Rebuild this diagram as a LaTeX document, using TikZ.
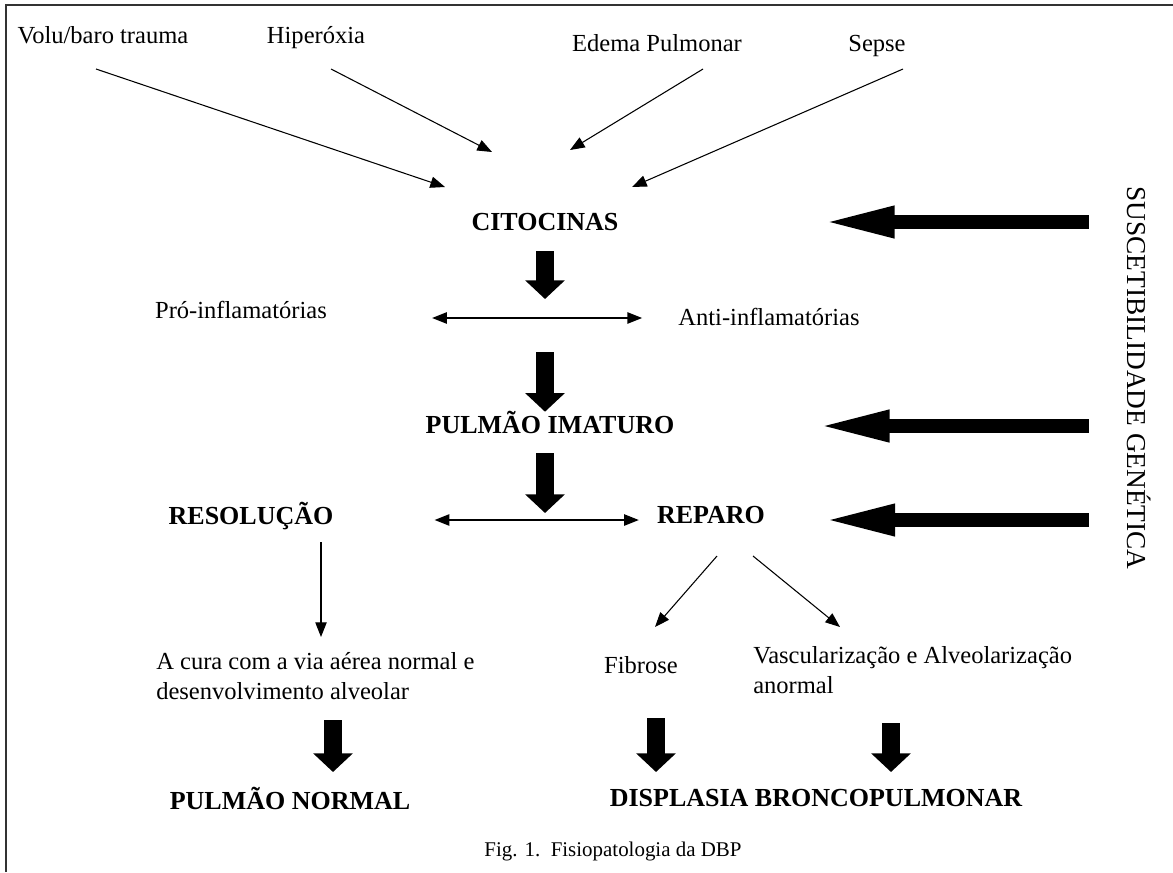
\documentclass[tikz,border=0pt]{standalone}
\usepackage{fontspec}
\setmainfont{Liberation Serif}
\usepackage{tikz}
\usetikzlibrary{arrows.meta}
\usetikzlibrary{calc}
\tikzstyle{txt}=[inner sep=0pt,font=\fontsize{18.4}{22}\selectfont]
\tikzstyle{lbl}=[txt,text height=13pt,text depth=4pt]
\tikzstyle{hd}=[inner sep=0pt,font=\fontsize{19.5}{23}\selectfont\bfseries,text height=14pt,text depth=4pt]
\tikzstyle{arhead}=[>/.tip={Triangle[length=11pt,width=8.5pt]}]
\tikzstyle{ar} =[line width=.8pt,arhead,->]
\tikzstyle{arr}=[line width=1pt,arhead,<->]
\tikzstyle{fat}=[line width=13pt,-{Triangle[length=14pt,width=29pt]}]
\tikzstyle{gen}=[line width=11pt,-{Triangle[length=57pt,width=21pt]}]
\begin{document}
\begin{tikzpicture}[x=.75pt,y=-.75pt]
	\useasboundingbox (0,0) rectangle (1173,872);
	\draw[line width=1.5pt,black!80] (6,872) -- (6,5) -- (1173,5);
	\node[lbl] (volu) at (103,37) {Volu/baro trauma};
	\node[lbl] (hiper) at (316,37) {Hiperóxia};
	\node[lbl] (edema) at (657,45) {Edema Pulmonar};
	\node[lbl] (sepse) at (877,45) {Sepse};
	\node[hd] (cit) at (545,224) {CITOCINAS};
	\node[lbl] (pro) at (241,312) {Pró-inflamatórias};
	\node[lbl] (anti) at (769,319) {Anti-inflamatórias};
	\node[hd] (imat) at (550,427) {PULMÃO IMATURO};
	\node[hd] (resol) at (251,518) {RESOLUÇÃO};
	\node[hd] (rep) at (711,517) {REPARO};
	\node[txt,align=left,anchor=west] (cura) at (156,676) {A cura com a via aérea normal e\\desenvolvimento alveolar};
	\node[lbl] (fib) at (641,667) {Fibrose};
	\node[txt,align=left,anchor=west] (vasc) at (753,670) {Vascularização e Alveolarização\\anormal};
	\node[hd] (pnorm) at (290,803) {PULMÃO NORMAL};
	\node[hd] (dbp) at (816,800) {DISPLASIA BRONCOPULMONAR};
	\node[lbl,font=\fontsize{15.7}{19}\selectfont] (fig) at (613,850) {Fig. 1.\ \ Fisiopatologia da DBP};
	\node[txt,font=\fontsize{20.5}{24}\selectfont,rotate=-90] (susc) at (1139,378) {SUSCETIBILIDADE GENÉTICA};
	\coordinate (c1) at (545,318);
	\coordinate (c2) at (545,520);
	% causas
	\draw[ar] ($(volu)+(-7,32)$) -- ($(cit)+(-100,-37)$);
	\draw[ar] ($(hiper)+(15,32)$) -- ($(cit)+(-53,-72)$);
	\draw[ar] ($(edema)+(46,24)$) -- ($(cit)+(25,-74)$);
	\draw[ar] ($(sepse)+(26,24)$) -- ($(cit)+(87,-37)$);
	% eixo central
	\draw[arr] ($(pro.east |- c1)+(105,0)$) -- ($(anti.west |- c1)+(-36,0)$);
	\draw[arr] ($(resol.east |- c2)+(101,0)$) -- ($(rep.west |- c2)+(-18,0)$);
	\draw[fat] ($(cit.south)+(0,15)$) -- ($(c1)+(0,-19)$);
	\draw[fat] ($(c1)+(0,34)$) -- ($(imat.north -| c1)+(0,-3)$);
	\draw[fat] ($(imat.south -| c2)+(0,14)$) -- ($(c2)+(0,-7)$);
	% desfechos
	\draw[ar] ($(resol)+(70,24)$) -- ($(cura.west)+(165,-39)$);
	\draw[ar] ($(rep)+(6,39)$) -- ($(fib)+(14,-40)$);
	\draw[ar] ($(rep)+(42,39)$) -- ($(vasc.west)+(87,-43)$);
	\draw[fat] ($(cura.west)+(177,44)$) -- ($(pnorm)+(43,-31)$);
	\draw[fat] ($(fib)+(15,51)$) -- ($(dbp)+(-160,-28)$);
	\draw[fat] ($(vasc.west)+(138,53)$) -- ($(dbp)+(75,-28)$);
	% suscetibilidade
	\draw[gen] ($(susc.south |- cit)+(-38,-2)$) -- ($(cit.east)+(200,-2)$);
	\draw[gen] ($(susc.south |- imat)+(-38,-1)$) -- ($(imat.east)+(139,-1)$);
	\draw[gen] ($(susc.south |- rep)+(-38,3)$) -- ($(rep.east)+(54,3)$);
\end{tikzpicture}
\end{document}
